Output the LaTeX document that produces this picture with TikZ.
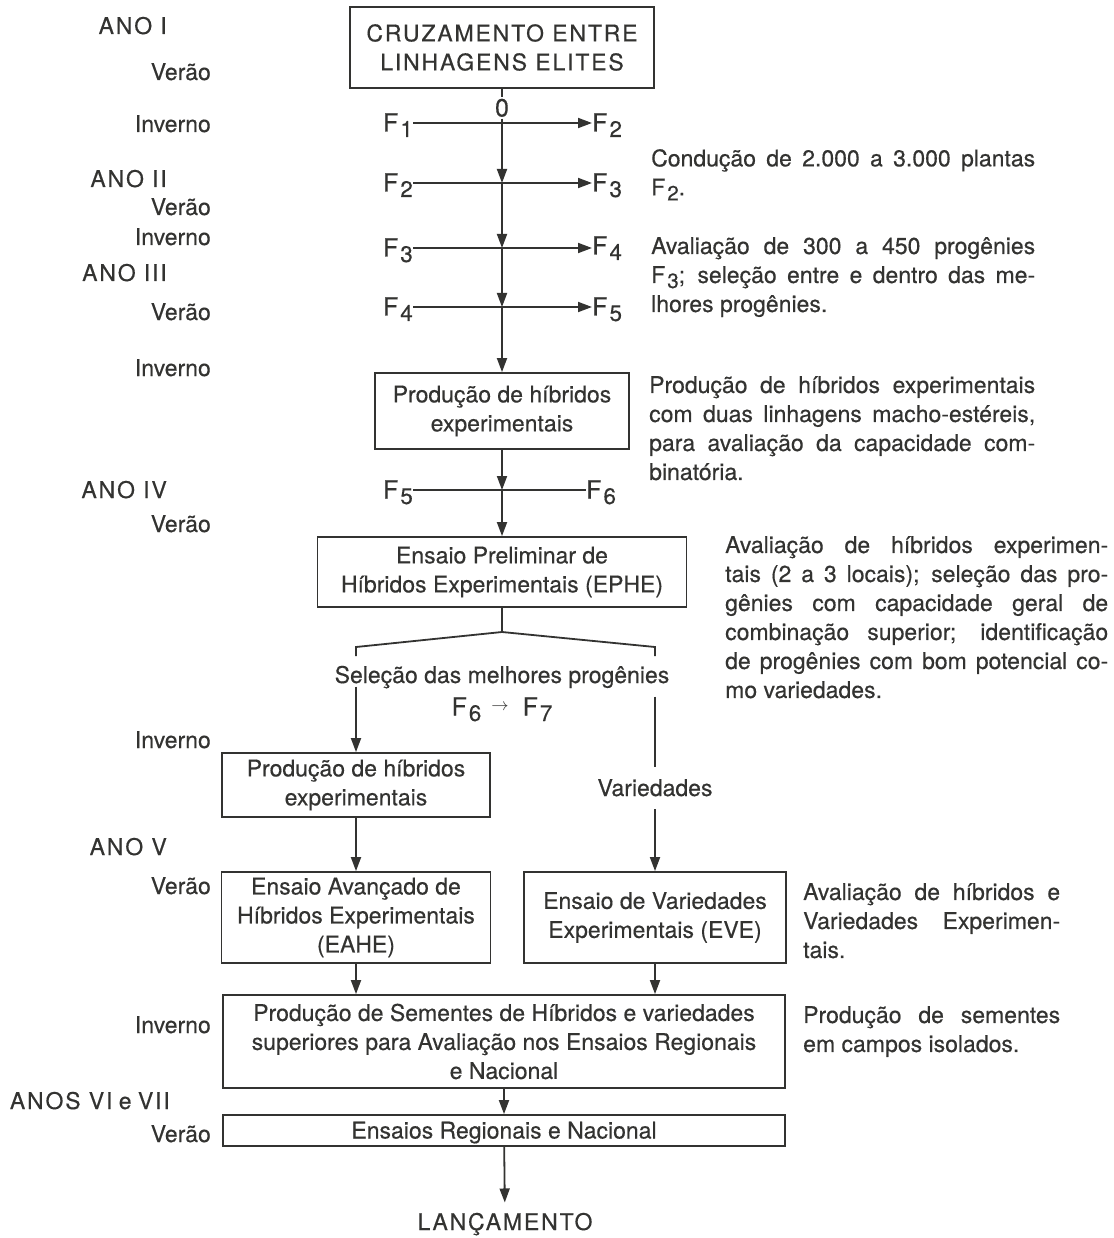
\documentclass[tikz,border=0pt]{standalone}
\usepackage{fontspec}
\setmainfont{TeX Gyre Heros}[FakeBold=0.4]
\usepackage{graphicx}
\usetikzlibrary{arrows.meta,positioning,calc}
\definecolor{ink}{HTML}{333331}
\newcommand{\gen}[1]{F\kern2pt\raisebox{-0.22em}{\scalebox{0.9}{#1}}}
\newcommand{\caps}[1]{{\addfontfeature{LetterSpace=8}#1}}
\tolerance=10000
\hyphenpenalty=10000
\tikzset{
  every node/.style={text=ink,font=\fontsize{23}{29}\selectfont},
  box/.style={draw=ink,line width=1.8pt,align=center,inner sep=2pt},
  lbl/.style={anchor=east,inner sep=0pt,text height=16pt,text depth=0pt},
  gen/.style={inner sep=0pt,text height=17pt,text depth=0pt,
    font=\fontsize{25}{29}\selectfont},
  note/.style={anchor=north west,inner sep=0pt,align=justify},
  flow/.style={-{Triangle[length=14pt,width=10pt]},line width=1.8pt,draw=ink},
  link/.style={line width=1.8pt,draw=ink},
}

\begin{document}
\begin{tikzpicture}[x=1pt,y=-1pt]
  \useasboundingbox (0,0) rectangle (1113,1238);

  % years and seasons
  \node[lbl] (ano1) at (167,26) {\caps{ANO I}};
  \node[lbl] (ver1) at (211,72) {Verão};
  \node[lbl] (inv1) at (211,124) {Inverno};
  \node[lbl] (ano2) at (167,179) {\caps{ANO II}};
  \node[lbl] (ver2) at (211,207) {Verão};
  \node[lbl] (inv2) at (211,237) {Inverno};
  \node[lbl] (ano3) at (167,273) {\caps{ANO III}};
  \node[lbl] (ver3) at (211,312) {Verão};
  \node[lbl] (inv3) at (211,368) {Inverno};
  \node[lbl] (ano4) at (167,490) {\caps{ANO IV}};
  \node[lbl] (ver4) at (211,524) {Verão};
  \node[lbl] (inv4) at (211,740) {Inverno};
  \node[lbl] (ano5) at (167,847) {\caps{ANO V}};
  \node[lbl] (ver5) at (211,886) {Verão};
  \node[lbl] (inv5) at (211,1025) {Inverno};
  \node[lbl] (ano67) at (170,1101) {\caps{ANOS VI} e \caps{VII}};
  \node[lbl] (ver67) at (211,1134) {Verão};

  % crossing and inbreeding generations
  \node[box,minimum width=304pt,minimum height=81pt] (cruz) at (502,47.5)
    {\caps{CRUZAMENTO ENTRE}\\\caps{LINHAGENS ELITES}};
  \node[gen,inner sep=2pt] (zero) at (502,108) {0};

  \node[gen,anchor=east] (g1) at (413,123) {\gen{1}};
  \node[gen,anchor=west] (h1) at (592,123) {\gen{2}};
  \node[gen,anchor=east] (g2) at (413,183) {\gen{2}};
  \node[gen,anchor=west] (h2) at (592,183) {\gen{3}};
  \node[gen,anchor=east] (g3) at (413,248) {\gen{3}};
  \node[gen,anchor=west] (h3) at (592,246) {\gen{4}};
  \node[gen,anchor=east] (g4) at (413,307) {\gen{4}};
  \node[gen,anchor=west] (h4) at (592,307) {\gen{5}};
  \coordinate (x2) at (502,183);
  \coordinate (x3) at (502,248);
  \coordinate (x4) at (502,307);

  \draw[flow] (g1) -- (g1 -| h1.west);
  \draw[flow] (g2) -- (h2);
  \draw[flow] (g3) -- (g3 -| h3.west);
  \draw[flow] (g4) -- (h4);
  \draw[link] (cruz) -- (zero);
  \draw[flow] (zero) -- (x2);
  \draw[flow] (x2) -- (x3);
  \draw[flow] (x3) -- (x4);

  \node[box,minimum width=254pt,minimum height=76pt] (prod1) at (502,411)
    {Produção de híbridos\\experimentais};
  \draw[flow] (x4) -- (prod1);

  \node[gen,anchor=east] (g5) at (413,490) {\gen{5}};
  \node[gen,anchor=west] (h5) at (586,490) {\gen{6}};
  \coordinate (x5) at (502,490);
  \draw[link] (g5) -- (h5);
  \draw[flow] (prod1) -- (x5);

  \node[box,minimum width=369pt,minimum height=70pt] (ephe) at (502,572)
    {Ensaio Preliminar de\\Híbridos Experimentais (EPHE)};
  \draw[flow] (x5) -- (ephe);

  % split into hybrids and varieties
  \coordinate (fork) at (502,632);
  \coordinate (forkL) at (356,647);
  \coordinate (forkR) at (655,647);
  \draw[link] (ephe) -- (fork);
  \draw[link] ($(forkL)+(0,9)$) -- (forkL) -- (fork) -- (forkR) -- ($(forkR)+(0,9)$);

  \node[text height=16pt,text depth=0pt] (sel) at (502,675)
    {Seleção das melhores progênies};
  \node[gen] (f67) at (502,707)
    {\gen{6}\hspace{10pt}\raisebox{5pt}{\fontsize{17}{17}\selectfont$\rightarrow$}\hspace{14pt}\gen{7}};

  \node[box,minimum width=268pt,minimum height=64pt] (prod2) at (356,785)
    {Produção de híbridos\\experimentais};
  \node[inner ysep=13pt,text height=16pt,text depth=0pt] (var) at (655,788) {Variedades};
  \draw[flow] (sel.south -| prod2) -- (prod2);
  \draw[link] ($(sel.south -| var)+(0,10)$) -- (var);

  \node[box,minimum width=269pt,minimum height=91pt] (eahe) at (356,917.5)
    {Ensaio Avançado de\\Híbridos Experimentais\\(EAHE)};
  \node[box,minimum width=262pt,minimum height=91pt] (eve) at (655,917.5)
    {Ensaio de Variedades\\Experimentais (EVE)};
  \draw[flow] (prod2) -- (eahe);
  \draw[flow] (var) -- (eve);

  \node[box,minimum width=562pt,minimum height=93pt] (sem) at (504,1041.5)
    {Produção de Sementes de Híbridos e variedades\\
     superiores para Avaliação nos Ensaios Regionais\\e Nacional};
  \draw[flow] (eahe) -- (eahe |- sem.north);
  \draw[flow] (eve) -- (eve |- sem.north);

  \node[box,minimum width=562pt,minimum height=31pt,text height=16pt,text depth=0pt]
    (ens) at (504,1130.5) {Ensaios Regionais e Nacional};
  \draw[flow] (sem) -- (ens);

  \node[text height=16pt,text depth=0pt] (lanc) at (505,1222) {\caps{LANÇAMENTO}};
  \draw[flow,shorten >=8pt] (ens) -- (lanc);

  % notes on the right
  \node[note,text width=384pt] (n1) at (651,149)
    {Condução de 2.000 a 3.000 plantas\linebreak \gen{2}.};
  \node[note,text width=384pt] (n2) at (651,237)
    {Avaliação de 300 a 450 progênies\linebreak
     \gen{3}; seleção entre e dentro das me-\linebreak lhores progênies.};
  \node[note,text width=386pt] (n3) at (649,376)
    {Produção de híbridos experimentais\linebreak
     com duas linhagens macho-estéreis,\linebreak
     para avaliação da capacidade com-\linebreak binatória.};
  \node[note,text width=383pt] (n4) at (725,536)
    {Avaliação de híbridos experimen-\linebreak
     tais (2 a 3 locais); seleção das pro-\linebreak
     gênies com capacidade geral de\linebreak
     combinação superior; identificação\linebreak
     de progênies com bom potencial co-\linebreak mo variedades.};
  \node[note,text width=257pt] (n5) at (803,883)
    {Avaliação de híbridos e\linebreak Variedades Experimen-\linebreak tais.};
  \node[note,text width=257pt] (n6) at (803,1006)
    {Produção de sementes\linebreak em campos isolados.};
\end{tikzpicture}
\end{document}
